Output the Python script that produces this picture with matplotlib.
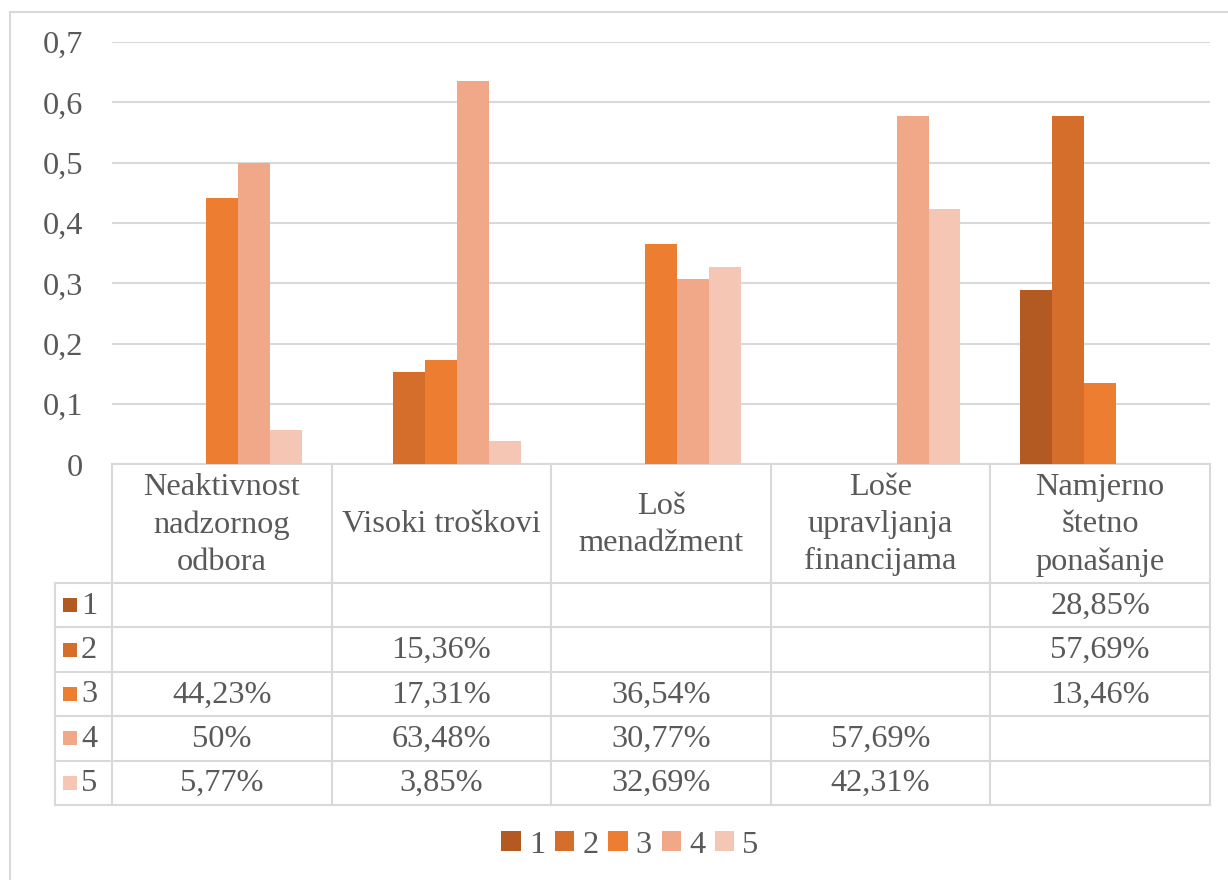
import numpy as np
import matplotlib
matplotlib.use("Agg")
import matplotlib.pyplot as plt
from matplotlib.patches import Rectangle, Patch

categories = ["Neaktivnost\nnadzornog\nodbora", "Visoki troškovi", "Loš\nmenadžment",
              "Loše\nupravljanja\nfinancijama", "Namjerno\nštetno\nponašanje"]
series_names = ["1", "2", "3", "4", "5"]
# values in percent (None = empty)
s1 = [None, None, None, None, 28.85]
s2 = [None, 15.36, None, None, 57.69]
s3 = [44.23, 17.31, 36.54, None, 13.46]
s4 = [50.0, 63.48, 30.77, 57.69, None]
s5 = [5.77, 3.85, 32.69, 42.31, None]
series = [s1, s2, s3, s4, s5]
colors = ["#B35A22", "#D46E2A", "#ED7D31", "#F1A888", "#F5C6B4"]
yticks = [0, 0.1, 0.2, 0.3, 0.4, 0.5, 0.6, 0.7]

W, H = 1228, 880
plt.rcParams['font.family'] = ['Liberation Serif', 'DejaVu Serif']
FS = 23.3
TXT = "#595959"
GRID = "#D9D9D9"

fig = plt.figure(figsize=(W / 100, H / 100), dpi=100)
fig.patch.set_facecolor("white")

# pixel geometry
ax_l, ax_r, ax_t, ax_b = 112, 1210, 42, 464.5
ax = fig.add_axes([ax_l / W, 1 - ax_b / H, (ax_r - ax_l) / W, (ax_b - ax_t) / H])

n = len(categories)
bw = 32 / 220
x = np.arange(n)
for j, s in enumerate(series):
    vals = np.array([np.nan if v is None else v / 100 for v in s])
    ax.bar(x + (j - 2) * bw, vals, width=bw, color=colors[j], edgecolor="none", zorder=3)

ax.set_xlim(-0.5, n - 0.5)
ax.set_ylim(0, 0.7)
ax.set_yticks(yticks)
ax.set_yticklabels([("%g" % t).replace(".", ",") for t in yticks], fontsize=FS, color=TXT)
ax.tick_params(axis="y", length=0, pad=21)
ax.set_xticks([])
ax.grid(axis="y", color=GRID, lw=1.5, zorder=0)
for sp in ax.spines.values():
    sp.set_visible(False)
ax.set_facecolor("none")

# overlay for table in pixel coords
ov = fig.add_axes([0, 0, 1, 1], zorder=-1)
ov.set_xlim(0, W)
ov.set_ylim(H, 0)
ov.axis("off")

# outer frame
ov.plot([10, 10], [12, H + 5], color=GRID, lw=1.5)
ov.plot([10, W + 5], [12, 12], color=GRID, lw=1.5)

col_edges = [ax_l + i * (ax_r - ax_l) / n for i in range(n + 1)]
row_left = 55
head_top, head_bot = 464.5, 583
row_h = (805 - head_bot) / 5
row_edges = [head_bot + i * row_h for i in range(6)]

# table lines
ov.plot([ax_l, ax_r], [head_top, head_top], color=GRID, lw=1.5)
for xe in col_edges:
    ov.plot([xe, xe], [head_top, row_edges[-1]], color=GRID, lw=1.5)
ov.plot([row_left, row_left], [head_bot, row_edges[-1]], color=GRID, lw=1.5)
for ye in row_edges:
    ov.plot([row_left, ax_r], [ye, ye], color=GRID, lw=1.5)

# header text
for i, c in enumerate(categories):
    cx = (col_edges[i] + col_edges[i + 1]) / 2
    ov.text(cx, (head_top + head_bot) / 2 + 1, c, ha="center", va="center", fontsize=FS,
            color=TXT, linespacing=1.36)

def fmt(v):
    if v is None:
        return ""
    if float(v).is_integer():
        return "%d%%" % v
    return ("%.2f%%" % v).replace(".", ",")

for j, s in enumerate(series):
    cy = (row_edges[j] + row_edges[j + 1]) / 2
    ov.add_patch(Rectangle((63, cy - 7), 14, 14, facecolor=colors[j], edgecolor="none"))
    ov.text(81, cy + 1, series_names[j], ha="left", va="center", fontsize=FS, color=TXT)
    for i, v in enumerate(s):
        cx = (col_edges[i] + col_edges[i + 1]) / 2
        ov.text(cx, cy + 1, fmt(v), ha="center", va="center", fontsize=FS, color=TXT)

handles = [Patch(facecolor=colors[j], edgecolor="none", label=series_names[j]) for j in range(5)]
fig.legend(handles=handles, loc="center", bbox_to_anchor=(630 / W, 1 - 845 / H), ncol=5,
           frameon=False, fontsize=FS, handlelength=0.6, handleheight=0.6,
           handletextpad=0.25, columnspacing=0.3, labelcolor=TXT)

fig.savefig("out.png", dpi=100, facecolor="white")
